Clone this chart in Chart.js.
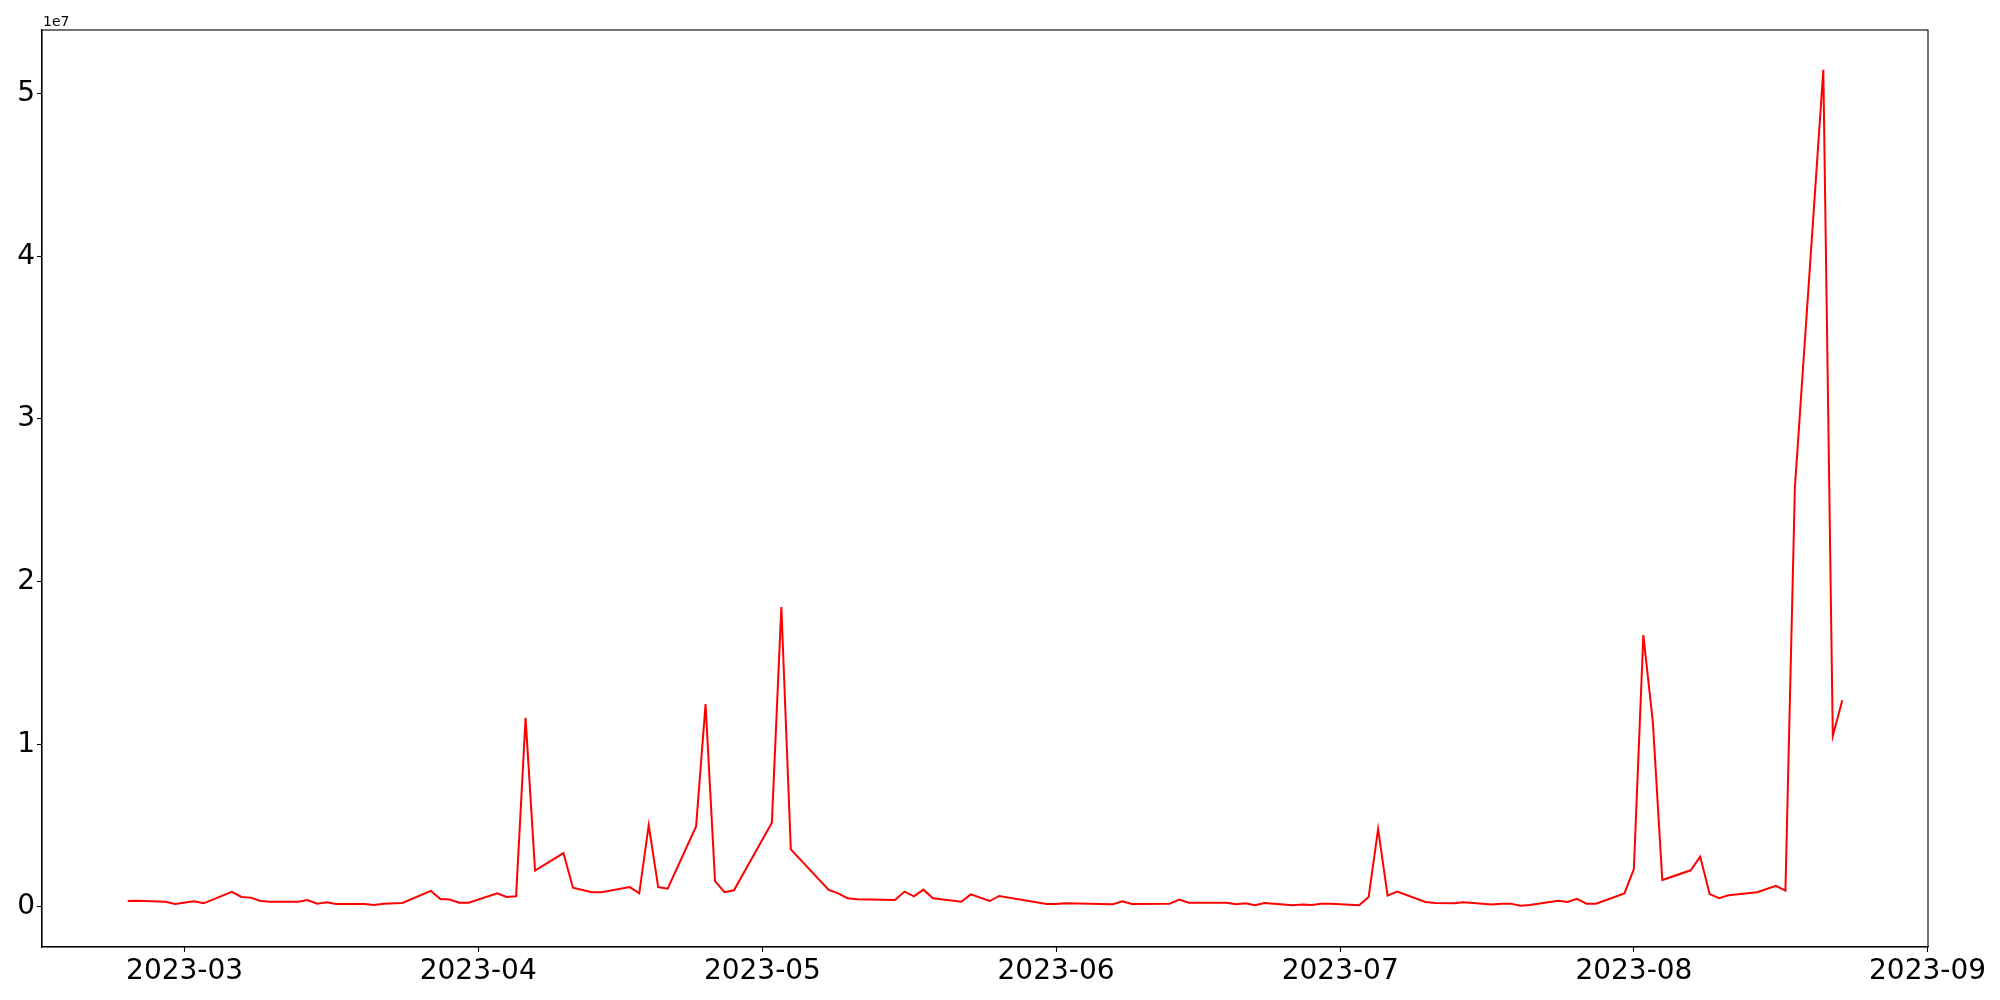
<!DOCTYPE html>
<html>
<head>
<meta charset="utf-8">
<script src="https://cdn.jsdelivr.net/npm/chart.js@4/dist/chart.umd.min.js"></script>
<style>
  html, body { margin: 0; padding: 0; background: #fff; }
</style>
</head>
<body>
<canvas id="chart" width="2000" height="1000"></canvas>
<script>
'use strict';

// trading days and values
var dates = [
  '2023-02-23', '2023-02-24', '2023-02-27', '2023-02-28', '2023-03-02', '2023-03-03',
  '2023-03-06', '2023-03-07', '2023-03-08', '2023-03-09', '2023-03-10',
  '2023-03-13', '2023-03-14', '2023-03-15', '2023-03-16', '2023-03-17',
  '2023-03-20', '2023-03-21', '2023-03-22', '2023-03-24',
  '2023-03-27', '2023-03-28', '2023-03-29', '2023-03-30', '2023-03-31',
  '2023-04-03', '2023-04-04', '2023-04-05', '2023-04-06', '2023-04-07',
  '2023-04-10', '2023-04-11', '2023-04-13', '2023-04-14',
  '2023-04-17', '2023-04-18', '2023-04-19', '2023-04-20', '2023-04-21',
  '2023-04-24', '2023-04-25', '2023-04-26', '2023-04-27', '2023-04-28',
  '2023-05-02', '2023-05-03', '2023-05-04',
  '2023-05-08', '2023-05-09', '2023-05-10', '2023-05-11',
  '2023-05-15', '2023-05-16', '2023-05-17', '2023-05-18', '2023-05-19',
  '2023-05-22', '2023-05-23', '2023-05-25', '2023-05-26',
  '2023-05-31', '2023-06-01', '2023-06-02',
  '2023-06-07', '2023-06-08', '2023-06-09',
  '2023-06-13', '2023-06-14', '2023-06-15',
  '2023-06-19', '2023-06-20', '2023-06-21', '2023-06-22', '2023-06-23',
  '2023-06-26', '2023-06-27', '2023-06-28', '2023-06-29', '2023-06-30',
  '2023-07-03', '2023-07-04', '2023-07-05', '2023-07-06', '2023-07-07',
  '2023-07-10', '2023-07-11', '2023-07-13', '2023-07-14',
  '2023-07-17', '2023-07-18', '2023-07-19', '2023-07-20', '2023-07-21',
  '2023-07-24', '2023-07-25', '2023-07-26', '2023-07-27', '2023-07-28',
  '2023-07-31', '2023-08-01', '2023-08-02', '2023-08-03', '2023-08-04',
  '2023-08-07', '2023-08-08', '2023-08-09', '2023-08-10', '2023-08-11',
  '2023-08-14', '2023-08-16', '2023-08-17', '2023-08-18',
  '2023-08-21', '2023-08-22', '2023-08-23'
];

var values = [
  360000, 380000, 320000, 180000, 340000, 220000,
  920000, 610000, 570000, 360000, 320000,
  320000, 420000, 200000, 280000, 180000,
  180000, 120000, 200000, 240000,
  980000, 490000, 450000, 260000, 260000,
  830000, 610000, 650000, 11620000, 2230000,
  3310000, 1180000, 900000, 900000,
  1220000, 830000, 5020000, 1220000, 1120000,
  4940000, 12470000, 1590000, 900000, 1020000,
  5180000, 18440000, 3540000,
  1040000, 830000, 530000, 470000,
  420000, 940000, 650000, 1060000, 530000,
  320000, 770000, 360000, 670000,
  180000, 180000, 220000,
  160000, 340000, 180000,
  200000, 450000, 260000,
  260000, 160000, 220000, 100000, 240000,
  100000, 140000, 120000, 200000, 200000,
  100000, 610000, 4780000, 690000, 940000,
  300000, 240000, 220000, 280000,
  140000, 200000, 200000, 70000, 120000,
  380000, 300000, 490000, 200000, 200000,
  830000, 2330000, 16710000, 11380000, 1650000,
  2250000, 3090000, 790000, 530000, 710000,
  900000, 1300000, 1000000, 25810000,
  51460000, 10510000, 12710000
];

var monthTicks = ['2023-03-01', '2023-04-01', '2023-05-01', '2023-06-01', '2023-07-01', '2023-08-01', '2023-09-01'];
var yTicks = [0, 1e7, 2e7, 3e7, 4e7, 5e7];

var DAY = 86400000;
var toMs = function(s) {
  var p = s.split('-');
  return Date.UTC(+p[0], +p[1] - 1, +p[2]);
};

var points = dates.map(function(d, i) {
  return { x: toMs(d), y: values[i] };
});

var FONT = 'DejaVu Sans';

// matplotlib style: full box round the axes and the 1e7 offset text
var boxPlugin = {
  id: 'box',
  afterDraw: function(chart) {
    var a = chart.chartArea;
    var ctx = chart.ctx;
    ctx.save();
    ctx.strokeStyle = '#000';
    ctx.lineWidth = 1.1;
    ctx.strokeRect(a.left, a.top, a.right - a.left, a.bottom - a.top);
    ctx.fillStyle = '#000';
    ctx.font = '14px "' + FONT + '"';
    ctx.textAlign = 'left';
    ctx.textBaseline = 'alphabetic';
    ctx.fillText('1e7', a.left + 1, a.top - 4);
    ctx.restore();
  }
};

var ctx = document.getElementById('chart').getContext('2d');
var chart = new Chart(ctx, {
  type: 'line',
  data: {
    datasets: [{
      data: points,
      borderColor: '#ff0000',
      borderWidth: 2,
      pointRadius: 0,
      fill: false,
      tension: 0
    }]
  },
  options: {
    responsive: false,
    animation: false,
    layout: {
      padding: { left: 0, top: 30, right: 72, bottom: 0 }
    },
    plugins: {
      legend: { display: false },
      tooltip: { enabled: false }
    },
    scales: {
      x: {
        type: 'linear',
        min: toMs('2023-03-01') - 15.05 * DAY,
        max: toMs('2023-03-01') + 184.05 * DAY,
        afterBuildTicks: function(scale) {
          scale.ticks = monthTicks.map(function(m) { return { value: toMs(m) }; });
        },
        afterFit: function(scale) { scale.height = 53; },
        grid: {
          drawOnChartArea: false,
          drawTicks: true,
          tickLength: 5,
          tickWidth: 1.1,
          tickColor: '#000'
        },
        border: { display: true, color: '#000', width: 1.1 },
        ticks: {
          autoSkip: false,
          maxRotation: 0,
          padding: 3,
          color: '#000',
          font: { family: FONT, size: 28 },
          callback: function(v) {
            var d = new Date(v);
            var m = d.getUTCMonth() + 1;
            return d.getUTCFullYear() + '-' + (m < 10 ? '0' + m : m);
          }
        }
      },
      y: {
        type: 'linear',
        min: -0.2466e7,
        max: 5.391e7,
        afterBuildTicks: function(scale) {
          scale.ticks = yTicks.map(function(v) { return { value: v }; });
        },
        afterFit: function(scale) { scale.width = 42; },
        grid: {
          drawOnChartArea: false,
          drawTicks: true,
          tickLength: 5,
          tickWidth: 1.1,
          tickColor: '#000'
        },
        border: { display: true, color: '#000', width: 1.1 },
        ticks: {
          padding: 2,
          color: '#000',
          font: { family: FONT, size: 28 },
          callback: function(v) { return String(v / 1e7); }
        }
      }
    }
  },
  plugins: [boxPlugin]
});
</script>
</body>
</html>
